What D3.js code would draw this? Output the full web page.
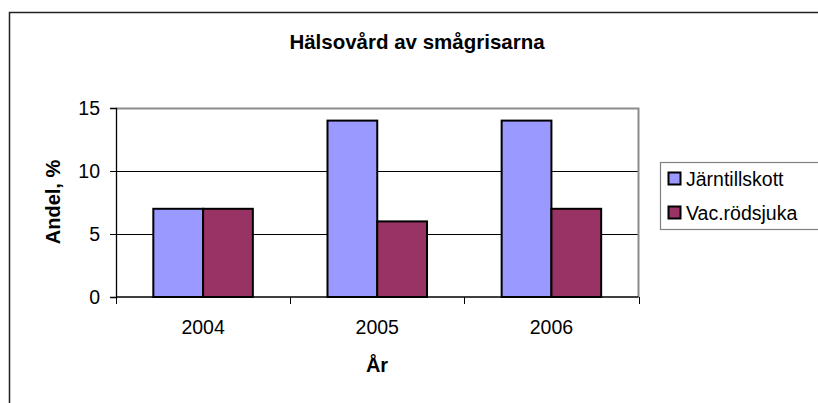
<!DOCTYPE html>
<html>
<head>
<meta charset="utf-8">
<script src="https://cdn.jsdelivr.net/npm/d3@7"></script>
<style>
  html, body { margin: 0; padding: 0; background: #fff; }
  svg { display: block; font-family: "Liberation Sans", Arial, sans-serif; }
</style>
</head>
<body>
<div id="chart"></div>
<script>
// donnees du graphique
var years = ["2004", "2005", "2006"];
var seriesNames = ["Järntillskott", "Vac.rödsjuka"];
var jarntillskott = [7, 14, 14];
var vacRodsjuka = [7, 6, 7];
var yTicks = [0, 5, 10, 15];
var colors = ["#9999FF", "#993366"];

var W = 818, H = 403;
var plot = {left: 116, right: 638.5, top: 108, bottom: 297};

var svg = d3.select("#chart").append("svg")
  .attr("width", W).attr("height", H);

// cadre exterieur (coupe par la fenetre)
svg.append("rect")
  .attr("x", 9.5).attr("y", 12.5)
  .attr("width", 900).attr("height", 500)
  .attr("fill", "#fff").attr("stroke", "#222").attr("stroke-width", 1.5);

// titre
svg.append("text")
  .attr("x", 417).attr("y", 49)
  .attr("text-anchor", "middle")
  .style("font-weight", "bold").style("font-size", "20.5px")
  .text("Hälsovård av smågrisarna");

var x0 = d3.scaleBand().domain(years).range([plot.left, plot.right]).padding(0);
var bw = x0.bandwidth();
var gap = bw * 1.5 / 3.5;
var x1 = d3.scaleBand().domain(seriesNames).range([gap / 2, bw - gap / 2]).padding(0);
var y = d3.scaleLinear().domain([0, 15]).range([plot.bottom, plot.top]);

// grille
svg.append("g").selectAll("line")
  .data(yTicks.filter(function(d) { return d > 0 && d < 15; }))
  .enter().append("line")
  .attr("x1", plot.left).attr("x2", plot.right)
  .attr("y1", function(d) { return Math.round(y(d)) + 0.5; })
  .attr("y2", function(d) { return Math.round(y(d)) + 0.5; })
  .attr("stroke", "#000").attr("stroke-width", 1);

// bord haut et droit du plot (gris)
svg.append("path")
  .attr("d", "M" + plot.left + "," + (plot.top + 0.5) + "H" + plot.right + "V" + plot.bottom)
  .attr("fill", "none").attr("stroke", "#8c8c8c").attr("stroke-width", 2);

// barres
var rows = years.map(function(yr, i) {
  return {year: yr, values: [jarntillskott[i], vacRodsjuka[i]]};
});

var groups = svg.append("g").selectAll("g")
  .data(rows).enter().append("g")
  .attr("transform", function(d) { return "translate(" + x0(d.year) + ",0)"; });

groups.selectAll("rect")
  .data(function(d) { return d.values.map(function(v, k) { return {name: seriesNames[k], value: v, k: k}; }); })
  .enter().append("rect")
  .attr("x", function(d) { return x1(d.name); })
  .attr("width", x1.bandwidth())
  .attr("y", function(d) { return y(d.value); })
  .attr("height", function(d) { return y(0) - y(d.value); })
  .attr("fill", function(d) { return colors[d.k]; })
  .attr("stroke", "#000").attr("stroke-width", 2);

// axe Y
var yAxis = d3.axisLeft(y).tickValues(yTicks).tickSize(6).tickPadding(10);
var gy = svg.append("g")
  .attr("transform", "translate(" + plot.left + ",0)")
  .call(yAxis);
gy.select(".domain").attr("stroke", "#000").attr("stroke-width", 1.3);
gy.selectAll("text").style("font-size", "19.5px").attr("fill", "#000");

// axe X : libelles au centre, tirets aux limites
var xAxis = d3.axisBottom(x0).tickSize(0).tickPadding(23);
var gx = svg.append("g")
  .attr("transform", "translate(0," + plot.bottom + ")")
  .call(xAxis);
gx.select(".domain").attr("d", "M" + plot.left + ",0H" + plot.right)
  .attr("stroke", "#000").attr("stroke-width", 1.3);
gx.selectAll("text").style("font-size", "19.5px").attr("fill", "#000");

var bounds = years.map(function(yr) { return x0(yr); }).concat([plot.right]);
gx.selectAll(".bnd").data(bounds).enter().append("line")
  .attr("class", "bnd")
  .attr("x1", function(d) { return Math.round(d) + 0.5; })
  .attr("x2", function(d) { return Math.round(d) + 0.5; })
  .attr("y1", 0).attr("y2", 7)
  .attr("stroke", "#000");

// titres des axes
svg.append("text")
  .attr("x", 377).attr("y", 372)
  .attr("text-anchor", "middle")
  .style("font-weight", "bold").style("font-size", "20px")
  .text("År");

svg.append("text")
  .attr("transform", "translate(60,202) rotate(-90)")
  .attr("text-anchor", "middle")
  .style("font-weight", "bold").style("font-size", "20px")
  .text("Andel, %");

// legende
var leg = svg.append("g");
leg.append("rect")
  .attr("x", 660.5).attr("y", 162.5)
  .attr("width", 200).attr("height", 67)
  .attr("fill", "#fff").attr("stroke", "#808080").attr("stroke-width", 1.2);

var items = leg.selectAll("g.item").data(seriesNames).enter().append("g")
  .attr("class", "item")
  .attr("transform", function(d, i) { return "translate(668," + (172 + i * 34) + ")"; });
items.append("rect")
  .attr("x", 0.5).attr("y", 0.5).attr("width", 12).attr("height", 12)
  .attr("fill", function(d, i) { return colors[i]; })
  .attr("stroke", "#000").attr("stroke-width", 2);
items.append("text")
  .attr("x", 18).attr("y", 14)
  .style("font-size", "19.5px")
  .text(function(d) { return d; });
</script>
</body>
</html>
